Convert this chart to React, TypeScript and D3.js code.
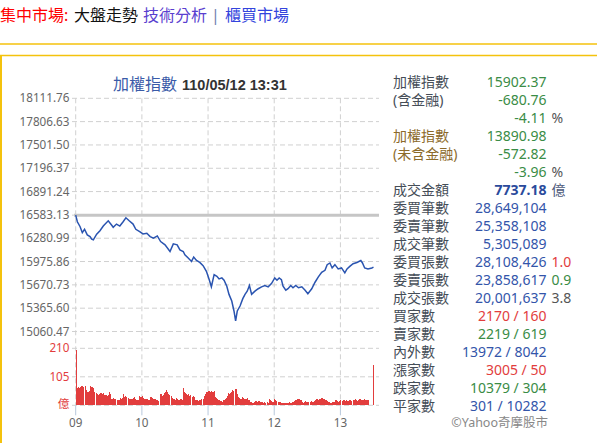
import React from 'react'
import * as d3 from 'd3'

// price axis ticks as printed on the chart
const yTicks = [
  18111.76, 17806.63, 17501.5, 17196.37, 16891.24, 16583.13, 16280.99, 15975.86,
  15670.73, 15365.6, 15060.47,
]
const prevClose = 16583.13
const hourLabels = ['09', '10', '11', '12', '13']
const hourMinutes = [0, 60, 120, 180, 240]
const volTicks = [210, 105]
const volZeroLabel = '億'

// minutes after 09:00 / index value
const priceMinutes = [
  0, 1.5, 4, 6, 8, 10.5, 13, 14.5, 16, 19,
  22, 25, 29.5, 32.5, 34, 37, 40, 43, 45.5, 48.5,
  52, 54.5, 58, 61, 64.5, 67.5, 70.5, 74, 77, 81,
  85.5, 88.5, 92, 94.5, 97.5, 99, 102, 105, 107, 109.5,
  112.5, 115.5, 118.5, 121, 123, 125.5, 128, 130, 132.5, 134.5,
  137, 139, 141.5, 143.5, 145, 146.5, 149, 151.5, 153.5, 155.5,
  157.5, 159.5, 162.5, 165.5, 168.5, 171.5, 174.5, 177.5, 180.5, 182.5,
  184.5, 186.5, 188, 190.5, 192.5, 195, 197, 199.5, 202, 205,
  208, 210.5, 214, 217, 220, 223, 226, 228, 230.5, 232.5,
  235, 238, 241, 244, 246, 248.5, 251.5, 255, 258.5, 260,
  262, 265, 268.5, 270,
]
const priceValues = [
  16583, 16496, 16431, 16354, 16398, 16324, 16302, 16268, 16259, 16333,
  16379, 16440, 16509, 16453, 16424, 16466, 16440, 16496, 16548, 16509,
  16466, 16398, 16366, 16337, 16346, 16302, 16281, 16311, 16237, 16194,
  16107, 16207, 16194, 16129, 16107, 16064, 16022, 15977, 16035, 15990,
  15964, 15922, 15848, 15740, 15646, 15805, 15783, 15749, 15762, 15731,
  15653, 15546, 15459, 15329, 15199, 15329, 15394, 15490, 15546, 15588,
  15662, 15546, 15588, 15620, 15645, 15662, 15645, 15688, 15762, 15731,
  15762, 15740, 15653, 15601, 15620, 15662, 15633, 15662, 15633, 15645,
  15601, 15555, 15620, 15705, 15775, 15835, 15861, 15935, 15957, 15892,
  15935, 15879, 15892, 15827, 15879, 15913, 15948, 15964, 15990, 15957,
  15892, 15879, 15892, 15902.37,
]

// per-minute turnover (億), index = minutes after 09:00
const volumes = [
  203,
  64, 68, 62, 66, 71,
  72, 68, 70,
  55, 50, 48, 52,
  70, 68, 66, 64,
  50, 44, 40, 38, 42, 47,
  44, 40, 46, 38,
  38, 36, 38, 50,
  40, 25, 24, 26, 25, 24,
  20, 18, 20, 26, 24, 28, 40,
  32, 34, 30, 28,
  24, 22, 24,
  22, 26, 30, 22, 20, 18,
  34, 32, 30, 34,
  28, 24, 22, 24, 23, 20,
  32, 30, 28, 24, 22, 23, 20, 18, 16,
  41, 40, 36, 38, 44, 50, 56, 48, 42, 38,
  36, 26, 22, 24, 20, 26, 24, 20, 18, 22, 20,
  63, 50, 44, 40, 38, 42, 36, 38, 32, 34, 30,
  20, 18, 20, 16, 18, 20, 22, 24,
  34, 40, 48, 50, 52, 53, 50, 54, 48, 52,
  29, 26, 22, 20, 18, 16, 15, 14, 18, 22,
  26, 34, 44, 40, 47, 50, 56, 52, 59, 60,
  40, 29, 26, 22, 24, 32, 26, 22, 24, 26, 20, 18, 14, 12,
  10, 10, 12, 15, 14, 15, 16, 14, 12, 12, 10, 11, 10, 12, 10,
  22, 20, 16, 12, 14, 22, 20, 16, 14, 12, 13, 10, 8, 7, 8, 10,
  10, 8, 12, 10, 10, 14, 12, 16, 20, 18, 24, 22, 18, 20, 12, 10, 12, 15, 14, 12,
  14, 13, 15, 12, 14, 16, 20, 22, 24, 20, 24, 28, 26, 22, 25, 20,
  18, 16, 14, 12, 10, 11, 12, 14, 18, 20, 16, 14, 16, 18,
  16, 18, 20, 17, 18, 16, 15, 18, 20, 16, 18, 20, 22, 18, 16, 20, 24, 22, 18, 20, 22, 20, 20, 20, 18,
]
const closingMinute = 270
const closingVolume = 148

const sideLabels = [
  '加權指數', '(含金融)', '', '加權指數', '(未含金融)', '', '成交金額', '委買筆數', '委賣筆數',
  '成交筆數', '委買張數', '委賣張數', '成交張數', '買家數', '賣家數', '內外數', '漲家數', '跌家數', '平家數',
]
const sideValues = [
  '15902.37', '-680.76', '-4.11', '13890.98', '-572.82', '-3.96', '7737.18', '28,649,104',
  '25,358,108', '5,305,089', '28,108,426', '23,858,617', '20,001,637', '2170 / 160',
  '2219 / 619', '13972 / 8042', '3005 / 50', '10379 / 304', '301 / 10282',
]
const sideSuffix = ['', '', '%', '', '', '%', '億', '', '', '', '1.0', '0.9', '3.8', '', '', '', '', '', '']

const RED = '#e23d3d'
const GREEN = '#3a8c46'
const BLUE = '#3355aa'
const GREY = '#555'
const BROWN = '#8c6a2a'
const labelColor = (i: number) => (i === 3 || i === 4 ? BROWN : '#454d57')
const valueColor = [
  GREEN, GREEN, GREEN, GREEN, GREEN, GREEN, '#2a4a9c', BLUE, BLUE, BLUE, BLUE, BLUE, BLUE,
  RED, GREEN, BLUE, RED, GREEN, BLUE,
]
const suffixColor = (s: string) =>
  s === '1.0' ? RED : s === '0.9' ? GREEN : s === '億' ? '#4d5a7a' : GREY

const FONT = "'Noto Sans', 'Noto Sans CJK TC', sans-serif"
const GOLD = '#f4c20d'

const App = () => {
  const width = 597
  const height = 443
  const left = 72
  const right = 379

  const x = d3.scaleLinear().domain([0, 270]).range([75.7, 373.5])
  const y = d3.scaleLinear().domain([15060.47, 18111.76]).range([331.5, 98.3])
  const v = d3.scaleLinear().domain([0, 210]).range([405.3, 348.3])
  const step = x(1) - x(0)

  const line = d3
    .line<number>()
    .x((_, i) => x(priceMinutes[i]))
    .y(d => y(d))

  return (
    <svg
      width={width}
      height={height}
      style={{ position: 'absolute', left: 0, top: 0, fontFamily: FONT }}
    >
      <rect width={width} height={height} fill='#fff' />

      {/* header */}
      <g fontSize={16} fontFamily={FONT}>
        <text x={0} y={21} fill='#f00'>集中市場:</text>
        <text x={74} y={21} fill='#111'>大盤走勢</text>
        <text x={143} y={21} fill='#5a3fcf'>技術分析</text>
        <text x={211} y={21} fill='#7080b0'>|</text>
        <text x={225} y={21} fill='#3344dd'>櫃買市場</text>
      </g>
      <line x1={0} x2={width} y1={44} y2={44} stroke={GOLD} strokeWidth={1.3} />
      <line x1={0} x2={width} y1={55.5} y2={55.5} stroke={GOLD} strokeWidth={1.3} />
      <line x1={1} x2={1} y1={55} y2={height} stroke={GOLD} strokeWidth={2} />

      {/* chart title */}
      <text x={113} y={90} fontSize={16} fill='#3a5ba8'>加權指數</text>
      <text
        x={182}
        y={90}
        fontSize={14.5}
        fontWeight='bold'
        fontFamily="'Liberation Sans', Arial, sans-serif"
        fill='#333'
      >
        110/05/12 13:31
      </text>

      {/* grid */}
      <g stroke='#d0d0d0' strokeDasharray='5,3' strokeWidth={1}>
        {yTicks.map(t => (
          <line key={t} x1={left} x2={right} y1={y(t)} y2={y(t)} />
        ))}
        {[0, ...volTicks].map(t => (
          <line key={'v' + t} x1={left} x2={right} y1={v(t)} y2={v(t)} />
        ))}
        {hourMinutes.map(m => (
          <line key={'h' + m} x1={x(m)} x2={x(m)} y1={y(18111.76)} y2={v(0)} />
        ))}
      </g>
      <g stroke='#b8c8dc' strokeWidth={1}>
        {hourMinutes.map(m => (
          <line key={'t' + m} x1={x(m)} x2={x(m)} y1={v(0)} y2={v(0) + 10} />
        ))}
      </g>

      {/* y labels */}
      <g fontSize={11.7} fill='#666' textAnchor='end'>
        {yTicks.map(t => (
          <text key={t} x={69.5} y={y(t) + 4}>
            {t.toFixed(2)}
          </text>
        ))}
      </g>
      <g fontSize={11.7} fill={RED} textAnchor='end'>
        {volTicks.map(t => (
          <text key={t} x={69.5} y={v(t) + 4}>
            {t}
          </text>
        ))}
        <text x={69.5} y={v(0) + 3}>{volZeroLabel}</text>
      </g>
      <g fontSize={11.7} fill='#666' textAnchor='middle'>
        {hourLabels.map((h, i) => (
          <text key={h} x={x(hourMinutes[i])} y={427}>
            {h}
          </text>
        ))}
      </g>

      {/* previous close */}
      <line
        x1={left + 2}
        x2={right}
        y1={y(prevClose)}
        y2={y(prevClose)}
        stroke='#c6c6c6'
        strokeWidth={3}
      />

      {/* volume */}
      <g fill={RED} shapeRendering='crispEdges'>
        {volumes.map((d, i) => (
          <rect key={i} x={x(i)} y={v(d)} width={step * 0.95} height={v(0) - v(d)} />
        ))}
        <rect
          x={x(closingMinute) - 1}
          y={v(closingVolume)}
          width={1.5}
          height={v(0) - v(closingVolume)}
        />
      </g>

      {/* price */}
      <path d={line(priceValues) || ''} fill='none' stroke='#2a54b0' strokeWidth={1.5} />

      {/* side panel */}
      <g fontSize={14}>
        {sideLabels.map((l, i) => (
          <g key={i}>
            <text x={393} y={86.5 + 18 * i} fill={labelColor(i)}>
              {l}
            </text>
            <text
              x={546.5}
              y={86.5 + 18 * i}
              textAnchor='end'
              fill={valueColor[i]}
              fontWeight={i === 6 ? 'bold' : 'normal'}
            >
              {sideValues[i]}
            </text>
            {sideSuffix[i] && (
              <text x={551.5} y={86.5 + 18 * i} fill={suffixColor(sideSuffix[i])}>
                {sideSuffix[i]}
              </text>
            )}
          </g>
        ))}
        <text x={548} y={427} fontSize={12.5} textAnchor='end' fill='#888'>
          ©Yahoo奇摩股市
        </text>
      </g>
    </svg>
  )
}

export default App
